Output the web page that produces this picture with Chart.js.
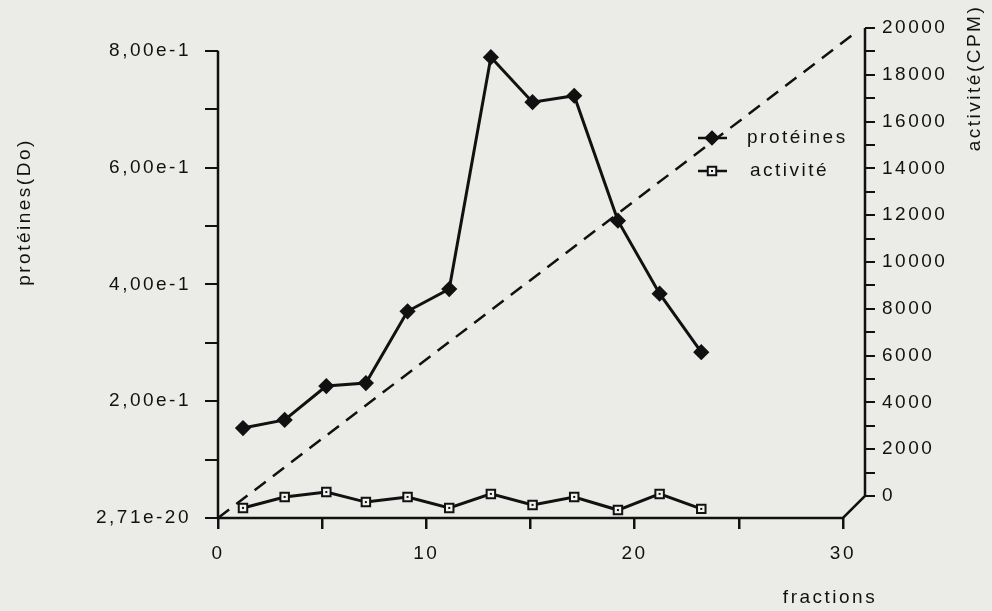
<!DOCTYPE html>
<html>
<head>
<meta charset="utf-8">
<title>protéines / activité</title>
<script src="https://cdn.jsdelivr.net/npm/chart.js@4.4.0/dist/chart.umd.min.js"></script>
<style>
html, body { margin: 0; padding: 0; background: #ebebe8; }
#wrap { width: 992px; height: 611px; }
</style>
</head>
<body>
<div id="wrap"><canvas id="chart" width="992" height="611"></canvas></div>
<script>
// fractions (x)
var fractions = [1.2, 3.2, 5.2, 7.1, 9.1, 11.1, 13.1, 15.1, 17.1, 19.2, 21.2, 23.2];
// protéines (Do), left axis
var proteines = [0.154, 0.168, 0.226, 0.231, 0.354, 0.392, 0.789, 0.712, 0.723, 0.509, 0.384, 0.284];
// activité (CPM), drawn on the front plane
var activite = [430, 900, 1110, 680, 900, 430, 1030, 560, 900, 340, 1030, 390];

var xTicks = [0, 5, 10, 15, 20, 25, 30];
var xLabels = ['0', '', '10', '', '20', '', '30'];
var leftTicks = [0, 0.1, 0.2, 0.3, 0.4, 0.5, 0.6, 0.7, 0.8];
var leftLabels = ['2,71e-20', '', '2,00e-1', '', '4,00e-1', '', '6,00e-1', '', '8,00e-1'];
var rightTicks = [0, 1000, 2000, 3000, 4000, 5000, 6000, 7000, 8000, 9000, 10000,
    11000, 12000, 13000, 14000, 15000, 16000, 17000, 18000, 19000, 20000];
var rightLabels = ['0', '', '2000', '', '4000', '', '6000', '', '8000', '', '10000',
    '', '12000', '', '14000', '', '16000', '', '18000', '', '20000'];

var ink = '#111111';
var fontFam = "'Liberation Sans', Arial, sans-serif";
var tickFont = { family: fontFam, size: 19 };
var spacing = '2.5px';

function toPoints(xs, ys) {
    return xs.map(function (x, i) { return { x: x, y: ys[i] }; });
}

var box3d = {
    id: 'box3d',
    beforeUpdate: function (chart) {
        chart.ctx.letterSpacing = spacing;
    },
    beforeDraw: function (chart) {
        var ctx = chart.ctx;
        ctx.save();
        ctx.fillStyle = '#ebebe8';
        ctx.fillRect(0, 0, chart.width, chart.height);
        ctx.restore();
        ctx.letterSpacing = spacing;
    },
    beforeDatasetsDraw: function (chart) {
        var ctx = chart.ctx;
        var xs = chart.scales.x, yl = chart.scales.y, yr = chart.scales.y1;
        var x0 = xs.getPixelForValue(0), x30 = xs.getPixelForValue(30);
        var y0 = yl.getPixelForValue(0), yTop = yl.getPixelForValue(0.8);
        var rx = chart.chartArea.right;
        var r0 = yr.getPixelForValue(0), r20 = yr.getPixelForValue(20000);
        ctx.save();
        ctx.strokeStyle = ink;
        ctx.lineWidth = 2.5;
        ctx.beginPath();
        // left axis
        ctx.moveTo(x0, yTop);
        ctx.lineTo(x0, y0);
        // bottom axis + oblique edge to the right axis
        ctx.lineTo(x30, y0);
        ctx.lineTo(rx, r0);
        ctx.lineTo(rx, r20);
        ctx.stroke();
        // dashed diagonal
        ctx.setLineDash([14, 9]);
        ctx.beginPath();
        ctx.moveTo(x0, y0);
        ctx.lineTo(rx - 10, r20 + 5);
        ctx.stroke();
        ctx.restore();
    },
    afterDraw: function (chart) {
        var ctx = chart.ctx;
        ctx.save();
        ctx.letterSpacing = spacing;
        ctx.fillStyle = ink;
        ctx.strokeStyle = ink;
        ctx.font = '19px ' + fontFam;
        ctx.textBaseline = 'middle';

        // dots inside the open squares
        var meta = chart.getDatasetMeta(1);
        meta.data.forEach(function (pt) {
            ctx.fillRect(pt.x - 1, pt.y - 1, 2, 2);
        });

        // axis titles
        ctx.textAlign = 'center';
        ctx.fillText('fractions', 830, 598);
        ctx.save();
        ctx.translate(25, 212);
        ctx.rotate(-Math.PI / 2);
        ctx.fillText('protéines(Do)', 0, 0);
        ctx.restore();
        ctx.save();
        ctx.translate(975, 78);
        ctx.rotate(-Math.PI / 2);
        ctx.fillText('activité(CPM)', 0, 0);
        ctx.restore();

        // legend
        ctx.lineWidth = 2.5;
        ctx.textAlign = 'left';
        ctx.beginPath();
        ctx.moveTo(698, 138); ctx.lineTo(727, 138);
        ctx.moveTo(698, 171); ctx.lineTo(727, 171);
        ctx.stroke();
        Chart.helpers.drawPoint(ctx, { pointStyle: 'rectRot', radius: 6, borderWidth: 1 }, 712, 138);
        ctx.fill();
        ctx.fillStyle = '#f2f2f0';
        ctx.lineWidth = 2;
        Chart.helpers.drawPoint(ctx, { pointStyle: 'rect', radius: 6, borderWidth: 2 }, 712, 171);
        ctx.fillStyle = ink;
        ctx.fillRect(711, 170, 2, 2);
        ctx.fillText('protéines', 747, 138);
        ctx.fillText('activité', 750, 171);
        ctx.restore();
    }
};

var ctx = document.getElementById('chart').getContext('2d');

var chart = new Chart(ctx, {
    type: 'line',
    data: {
        datasets: [{
            label: 'protéines',
            data: toPoints(fractions, proteines),
            yAxisID: 'y',
            borderColor: ink,
            borderWidth: 3,
            pointStyle: 'rectRot',
            pointRadius: 6,
            pointBackgroundColor: ink,
            pointBorderColor: ink,
            tension: 0
        }, {
            label: 'activité',
            data: toPoints(fractions, activite),
            yAxisID: 'yFront',
            borderColor: ink,
            borderWidth: 3,
            pointStyle: 'rect',
            pointRadius: 6,
            pointBackgroundColor: '#f2f2f0',
            pointBorderColor: ink,
            pointBorderWidth: 2,
            tension: 0
        }]
    },
    options: {
        responsive: false,
        animation: false,
        layout: { padding: { top: 28, left: 0, right: 0, bottom: 0 } },
        plugins: {
            legend: { display: false },
            tooltip: { enabled: false }
        },
        scales: {
            x: {
                type: 'linear',
                position: 'bottom',
                min: 0,
                max: 31.06,
                afterBuildTicks: function (s) {
                    s.ticks = xTicks.map(function (v) { return { value: v }; });
                },
                afterFit: function (s) { s.height = 93; },
                ticks: {
                    autoSkip: false,
                    maxRotation: 0,
                    padding: 13,
                    color: ink,
                    font: tickFont,
                    callback: function (v) {
                        var i = xTicks.indexOf(v);
                        return i >= 0 ? xLabels[i] : '';
                    }
                },
                grid: { drawOnChartArea: false, tickLength: 11, color: ink, lineWidth: 2.5 },
                border: { display: false }
            },
            y: {
                position: 'left',
                min: 0,
                max: 0.839,
                afterBuildTicks: function (s) {
                    s.ticks = leftTicks.map(function (v) { return { value: v }; });
                },
                afterFit: function (s) { s.width = 218; },
                ticks: {
                    autoSkip: false,
                    padding: 14,
                    color: ink,
                    font: tickFont,
                    callback: function (v, i) { return leftLabels[i]; }
                },
                grid: { drawOnChartArea: false, tickLength: 13, color: ink, lineWidth: 2 },
                border: { display: false }
            },
            y1: {
                position: 'right',
                min: -940,
                max: 20000,
                afterBuildTicks: function (s) {
                    s.ticks = rightTicks.map(function (v) { return { value: v }; });
                },
                afterFit: function (s) { s.width = 127; },
                ticks: {
                    autoSkip: false,
                    padding: 7,
                    color: ink,
                    font: tickFont,
                    callback: function (v, i) { return rightLabels[i]; }
                },
                grid: { drawOnChartArea: false, tickLength: 10, color: ink, lineWidth: 2 },
                border: { display: false }
            },
            yFront: {
                display: false,
                position: 'right',
                min: 0,
                max: 20940
            }
        }
    },
    plugins: [box3d]
});
</script>
</body>
</html>
